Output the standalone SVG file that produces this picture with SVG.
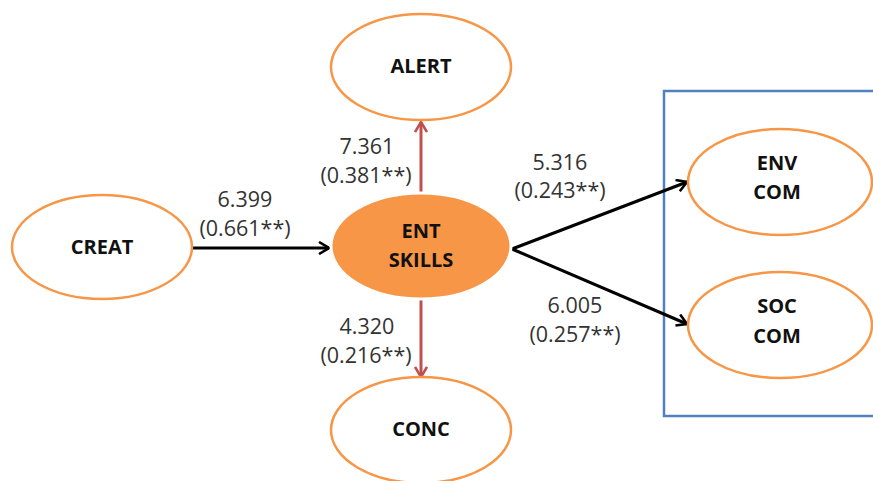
<svg xmlns="http://www.w3.org/2000/svg" width="873" height="481" viewBox="0 0 873 481">
  <defs>
    <marker id="arrow-black" viewBox="0 0 12 14" refX="11" refY="7" markerWidth="12" markerHeight="14" markerUnits="userSpaceOnUse" orient="auto">
      <path d="M1,1 L11,7 L1,13" fill="none" stroke="#000" stroke-width="2.6" stroke-linejoin="miter"/>
    </marker>
    <marker id="arrow-red" viewBox="0 0 12 14" refX="11" refY="7" markerWidth="12" markerHeight="14" markerUnits="userSpaceOnUse" orient="auto">
      <path d="M1,1 L11,7 L1,13" fill="none" stroke="#C0504D" stroke-width="2.6" stroke-linejoin="miter"/>
    </marker>
  </defs>
  <style>
    .node { fill: #fff; stroke: #F79646; stroke-width: 2.5; }
    .node.core { fill: #F79646; stroke: #fff; stroke-width: 3; }
    .label { font-family: "Open Sans", "Liberation Sans", sans-serif; font-weight: bold; font-size: 20px; fill: #111; text-anchor: middle; }
    .coef { font-family: "Open Sans", "Liberation Sans", sans-serif; font-size: 21.5px; fill: #333; text-anchor: middle; }
    .edge { fill: none; stroke: #000; stroke-width: 3; }
    .edge.red { stroke: #C0504D; }
  </style>

  <rect width="873" height="481" fill="#fff"/>

  <!-- outcome grouping box -->
  <rect id="outcomes-box" x="664" y="91" width="220" height="325" fill="none" stroke="#4F81BD" stroke-width="2.5"/>

  <g id="connectors">
    <line class="edge" x1="193" y1="248" x2="329" y2="248" marker-end="url(#arrow-black)"/>
    <line class="edge red" x1="421" y1="195" x2="421" y2="122" marker-end="url(#arrow-red)"/>
    <line class="edge red" x1="421" y1="298" x2="421" y2="377" marker-end="url(#arrow-red)"/>
    <line class="edge" x1="512" y1="249" x2="687" y2="182" marker-end="url(#arrow-black)"/>
    <line class="edge" x1="512" y1="249" x2="687" y2="324" marker-end="url(#arrow-black)"/>

    <text class="coef" x="245" y="207">6.399</text>
    <text class="coef" x="245" y="236">(0.661**)</text>
    <text class="coef" x="367" y="154">7.361</text>
    <text class="coef" x="366" y="183">(0.381**)</text>
    <text class="coef" x="367" y="334">4.320</text>
    <text class="coef" x="366" y="363">(0.216**)</text>
    <text class="coef" x="560" y="170">5.316</text>
    <text class="coef" x="560" y="198">(0.243**)</text>
    <text class="coef" x="575" y="313">6.005</text>
    <text class="coef" x="575" y="342">(0.257**)</text>
  </g>

  <g id="creat">
    <ellipse class="node" cx="102" cy="247" rx="90" ry="52"/>
    <text class="label" x="102" y="254">CREAT</text>
  </g>

  <g id="ent-skills">
    <ellipse class="node core" cx="421" cy="246" rx="90" ry="53"/>
    <text class="label" x="421" y="238">ENT</text>
    <text class="label" x="421" y="267">SKILLS</text>
  </g>

  <g id="alert">
    <ellipse class="node" cx="421" cy="67" rx="90" ry="53"/>
    <text class="label" x="421" y="73">ALERT</text>
  </g>

  <g id="conc">
    <ellipse class="node" cx="421" cy="430" rx="90" ry="53"/>
    <text class="label" x="421" y="436">CONC</text>
  </g>

  <g id="env-com">
    <ellipse class="node" cx="780" cy="182" rx="92" ry="53"/>
    <text class="label" x="777" y="170">ENV</text>
    <text class="label" x="777" y="199">COM</text>
  </g>

  <g id="soc-com">
    <ellipse class="node" cx="780" cy="325" rx="92" ry="53"/>
    <text class="label" x="777" y="313">SOC</text>
    <text class="label" x="777" y="343">COM</text>
  </g>
</svg>
